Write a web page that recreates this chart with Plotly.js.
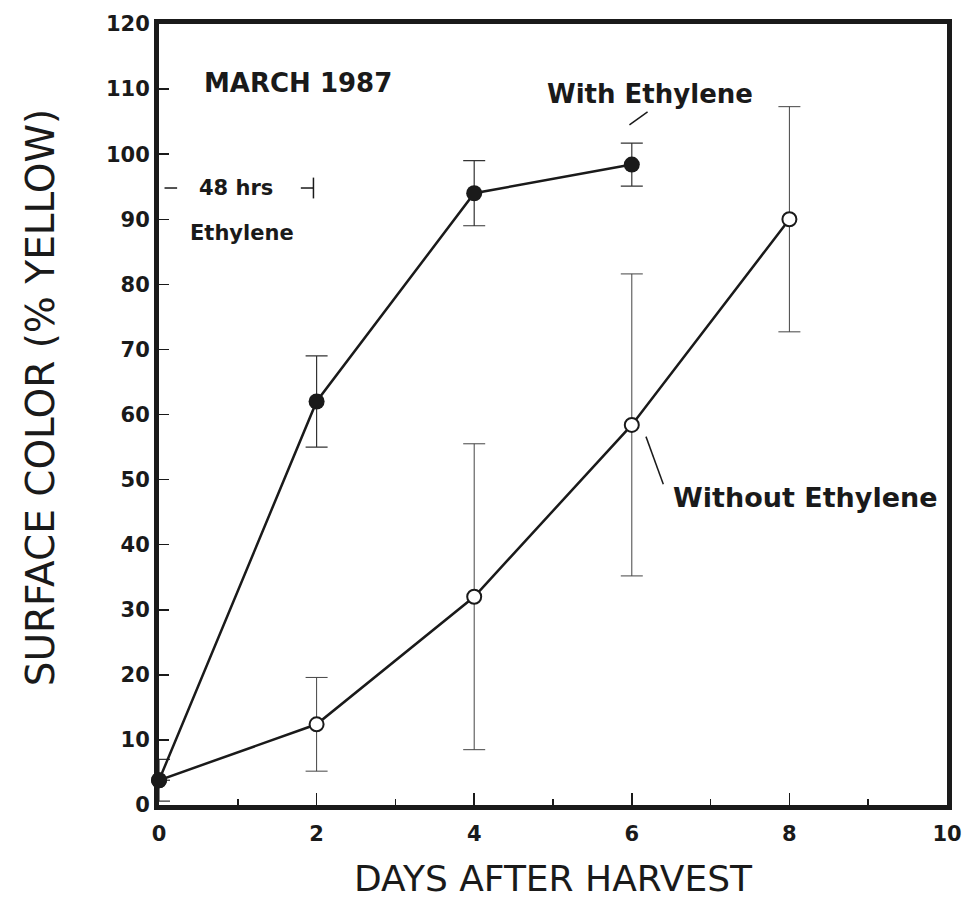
<!DOCTYPE html>
<html>
<head>
<meta charset="utf-8">
<script src="https://cdn.plot.ly/plotly-3.0.1.min.js"></script>
<style>html,body{margin:0;padding:0;background:#fff}#chart{width:969px;height:899px}</style>
</head>
<body>
<div id="chart"></div>
<script>
// Data
const daysWith = [0, 2, 4, 6];
const yellowWith = [3.8, 62, 94, 98.4];
const errWith = [3.2, 7, 5, 3.3];

const daysWithout = [0, 2, 4, 6, 8];
const yellowWithout = [3.8, 12.4, 32, 58.4, 90];
const errWithout = [0, 7.2, 23.5, 23.2, 17.3];

const xTicks = [0, 2, 4, 6, 8, 10];
const yTicks = [0, 10, 20, 30, 40, 50, 60, 70, 80, 90, 100, 110, 120];

const ink = '#1a1a1a';
const tickFont = {family: 'DejaVu Sans', size: 21, color: ink, weight: 'bold'};

const traces = [
  {
    x: daysWithout, y: yellowWithout, type: 'scatter', mode: 'lines+markers',
    line: {color: ink, width: 2.5},
    marker: {symbol: 'circle', size: 14, color: '#fff', line: {color: ink, width: 2}},
    error_y: {type: 'data', array: errWithout, visible: true, color: '#444', thickness: 1, width: 11},
    showlegend: false, cliponaxis: false
  },
  {
    x: daysWith, y: yellowWith, type: 'scatter', mode: 'lines+markers',
    line: {color: ink, width: 2.5},
    marker: {symbol: 'circle', size: 16, color: ink},
    error_y: {type: 'data', array: errWith, visible: true, color: '#333', thickness: 1.2, width: 11},
    showlegend: false, cliponaxis: false
  }
];

const layout = {
  width: 969, height: 899,
  margin: {l: 159, r: 22, t: 24, b: 94},
  paper_bgcolor: '#fff', plot_bgcolor: '#fff',
  xaxis: {
    range: [0, 10], tickvals: xTicks, ticktext: xTicks.map(String),
    ticks: 'inside', ticklen: 12, tickwidth: 1.5, tickcolor: ink,
    minor: {dtick: 1, tick0: 0, ticks: 'inside', ticklen: 6, tickwidth: 1.5, tickcolor: ink},
    showline: true, linecolor: ink, linewidth: 5, mirror: true,
    showgrid: false, zeroline: false, tickfont: tickFont, ticklabelstandoff: 6,
    title: {text: 'DAYS AFTER HARVEST', font: {family: 'DejaVu Sans', size: 36, color: ink}, standoff: 22}
  },
  yaxis: {
    range: [0, 120], tickvals: yTicks, ticktext: yTicks.map(String),
    ticks: 'inside', ticklen: 10, tickwidth: 1.5, tickcolor: ink,
    showline: true, linecolor: ink, linewidth: 5, mirror: true,
    showgrid: false, zeroline: false, tickfont: tickFont
  },
  annotations: [
    {x: -0.151, y: 0.522, xref: 'paper', yref: 'paper', text: 'SURFACE COLOR (% YELLOW)', textangle: -90, showarrow: false,
     xanchor: 'center', yanchor: 'middle', font: {family: 'DejaVu Sans', size: 39, color: ink}},
    {x: 0.55, y: 111, xref: 'x', yref: 'y', text: 'MARCH 1987', showarrow: false, xanchor: 'left', yanchor: 'middle',
     font: {family: 'DejaVu Sans', size: 26, color: ink, weight: 'bold'}},
    {x: 4.9, y: 109.2, xref: 'x', yref: 'y', text: 'With Ethylene', showarrow: false, xanchor: 'left', yanchor: 'middle',
     font: {family: 'DejaVu Sans', size: 26, color: ink, weight: 'bold'}},
    {x: 6.5, y: 47.3, xref: 'x', yref: 'y', text: 'Without Ethylene', showarrow: false, xanchor: 'left', yanchor: 'middle',
     font: {family: 'DejaVu Sans', size: 27, color: ink, weight: 'bold'}},
    {x: 0.48, y: 94.8, xref: 'x', yref: 'y', text: '48 hrs', showarrow: false, xanchor: 'left', yanchor: 'middle', font: {family: 'DejaVu Sans', size: 21, color: ink, weight: 'bold'}},
    {x: 0.37, y: 87.9, xref: 'x', yref: 'y', text: 'Ethylene', showarrow: false, xanchor: 'left', yanchor: 'middle', font: {family: 'DejaVu Sans', size: 21, color: ink, weight: 'bold'}}
  ],
  shapes: [
    {type: 'line', xref: 'x', yref: 'y', x0: 0.07, x1: 0.23, y0: 94.8, y1: 94.8, line: {color: ink, width: 1.5}},
    {type: 'line', xref: 'x', yref: 'y', x0: 1.8, x1: 1.96, y0: 94.8, y1: 94.8, line: {color: ink, width: 1.5}},
    {type: 'line', xref: 'x', yref: 'y', x0: 1.96, x1: 1.96, y0: 93.2, y1: 96.4, line: {color: ink, width: 1.5}},
    {type: 'line', xref: 'x', yref: 'y', x0: 5.97, x1: 6.2, y0: 104.5, y1: 106.5, line: {color: ink, width: 1.5}},
    {type: 'line', xref: 'x', yref: 'y', x0: 6.18, x1: 6.4, y0: 56.6, y1: 49.3, line: {color: ink, width: 1.5}}
  ]
};

Plotly.newPlot('chart', traces, layout, {displayModeBar: false, staticPlot: true});
</script>
</body>
</html>
